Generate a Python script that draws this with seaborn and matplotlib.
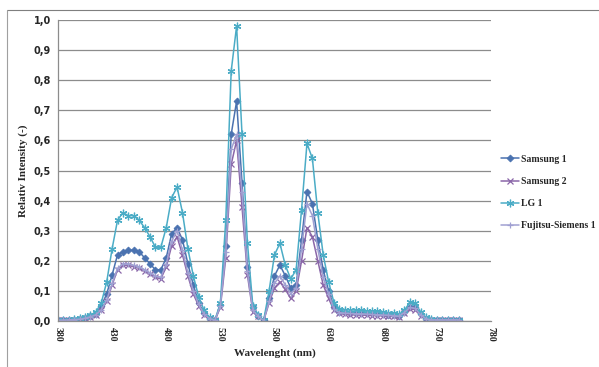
import numpy as np
import pandas as pd
import matplotlib
matplotlib.use("Agg")
import matplotlib.pyplot as plt
import seaborn as sns
from matplotlib.lines import Line2D

# wavelengths (nm), 5 nm steps
wavelength = list(range(380, 755, 5))

samsung1 = [0.003, 0.003, 0.004, 0.005, 0.007, 0.010, 0.015, 0.022, 0.050, 0.090,
            0.153, 0.220, 0.230, 0.235, 0.235, 0.230, 0.210, 0.190, 0.170, 0.170,
            0.210, 0.290, 0.310, 0.270, 0.190, 0.120, 0.060, 0.025, 0.008, 0.002,
            0.053, 0.250, 0.620, 0.730, 0.460, 0.180, 0.047, 0.018, 0.002, 0.075,
            0.150, 0.186, 0.150, 0.110, 0.120, 0.270, 0.430, 0.390, 0.270, 0.170,
            0.100, 0.045, 0.030, 0.029, 0.028, 0.027, 0.027, 0.026, 0.025, 0.024,
            0.023, 0.021, 0.019, 0.017, 0.030, 0.048, 0.045, 0.022, 0.008, 0.005,
            0.004, 0.004, 0.004, 0.004, 0.004]

samsung2 = [0.003, 0.003, 0.003, 0.004, 0.006, 0.009, 0.013, 0.020, 0.035, 0.065,
            0.120, 0.170, 0.185, 0.185, 0.180, 0.175, 0.165, 0.155, 0.145, 0.140,
            0.180, 0.250, 0.280, 0.220, 0.150, 0.090, 0.050, 0.020, 0.008, 0.003,
            0.045, 0.210, 0.520, 0.600, 0.380, 0.153, 0.030, 0.015, 0.001, 0.060,
            0.110, 0.130, 0.105, 0.075, 0.100, 0.200, 0.310, 0.280, 0.200, 0.120,
            0.075, 0.035, 0.025, 0.022, 0.021, 0.020, 0.020, 0.019, 0.018, 0.018,
            0.017, 0.016, 0.015, 0.014, 0.025, 0.040, 0.038, 0.018, 0.006, 0.004,
            0.003, 0.003, 0.003, 0.003, 0.003]

lg1 = [0.004, 0.004, 0.005, 0.006, 0.009, 0.013, 0.020, 0.030, 0.060, 0.130,
       0.240, 0.335, 0.360, 0.350, 0.350, 0.335, 0.310, 0.280, 0.245, 0.245,
       0.310, 0.410, 0.445, 0.360, 0.240, 0.150, 0.080, 0.035, 0.012, 0.003,
       0.060, 0.335, 0.830, 0.980, 0.620, 0.260, 0.050, 0.020, 0.003, 0.100,
       0.220, 0.258, 0.185, 0.140, 0.170, 0.370, 0.590, 0.540, 0.360, 0.220,
       0.130, 0.060, 0.040, 0.038, 0.037, 0.036, 0.035, 0.034, 0.033, 0.032,
       0.030, 0.028, 0.025, 0.022, 0.035, 0.062, 0.060, 0.030, 0.012, 0.006,
       0.005, 0.005, 0.005, 0.005, 0.005]

fujitsu1 = [0.003, 0.003, 0.004, 0.005, 0.006, 0.009, 0.014, 0.021, 0.037, 0.070,
            0.125, 0.175, 0.190, 0.190, 0.185, 0.180, 0.170, 0.160, 0.150, 0.145,
            0.190, 0.265, 0.300, 0.235, 0.160, 0.100, 0.055, 0.022, 0.008, 0.003,
            0.050, 0.230, 0.570, 0.620, 0.430, 0.165, 0.035, 0.016, 0.001, 0.065,
            0.125, 0.150, 0.120, 0.090, 0.110, 0.240, 0.390, 0.350, 0.240, 0.145,
            0.090, 0.040, 0.028, 0.026, 0.025, 0.024, 0.024, 0.023, 0.022, 0.021,
            0.020, 0.019, 0.018, 0.016, 0.028, 0.045, 0.042, 0.020, 0.007, 0.004,
            0.004, 0.004, 0.004, 0.004, 0.004]

series_names = ["Samsung 1", "Samsung 2", "LG 1", "Fujitsu-Siemens 1"]
xticks = [380, 430, 480, 530, 580, 630, 680, 730, 780]
yticks = [0.0, 0.1, 0.2, 0.3, 0.4, 0.5, 0.6, 0.7, 0.8, 0.9, 1.0]

sns.set_style("white")
plt.rcParams["font.family"] = ["Liberation Serif", "DejaVu Serif"]

df = pd.DataFrame({
    "wl": wavelength * 4,
    "val": samsung1 + samsung2 + lg1 + fujitsu1,
    "name": sum([[n] * len(wavelength) for n in series_names], []),
})

styles = {
    "Samsung 1": dict(color="#4a72b0", marker="D", ms=3.5, mew=0.6),
    "Samsung 2": dict(color="#8a66a8", marker="x", ms=4.5, mew=0.9),
    "LG 1": dict(color="#4bacc6", marker=(6, 2, 0), ms=5.5, mew=0.9),
    "Fujitsu-Siemens 1": dict(color="#a0a0d2", marker="+", ms=5, mew=0.9),
}

fig = plt.figure(figsize=(5.99, 3.67), dpi=100)
ax = fig.add_axes([0.0968, 0.1253, 0.7229, 0.8202])

for n in series_names:
    st = styles[n]
    sub = df[df["name"] == n]
    sns.lineplot(data=sub, x="wl", y="val", ax=ax, color=st["color"], lw=1.1,
                 marker=st["marker"], markersize=st["ms"], markeredgewidth=st["mew"],
                 markeredgecolor=st["color"], label=n)

ax.set_xlim(380, 780)
ax.set_ylim(0, 1.0)
ax.set_xticks(xticks)
ax.set_xticklabels([str(t) for t in xticks], rotation=-90, fontsize=7, fontweight="bold")
ax.set_yticks(yticks)
ax.set_yticklabels([f"{t:.1f}".replace(".", ",") for t in yticks], fontsize=7,
                   fontweight="bold", family="DejaVu Sans")
ax.yaxis.grid(True, color="#8c8c8c", lw=0.9)
ax.xaxis.grid(False)
for s in ["top", "right"]:
    ax.spines[s].set_visible(False)
for s in ["left", "bottom"]:
    ax.spines[s].set_color("#8c8c8c")
    ax.spines[s].set_linewidth(0.9)
ax.tick_params(axis="both", length=0, pad=4)
ax.tick_params(axis="y", pad=5)

ax.set_xlabel("Wavelenght (nm)", fontsize=8, fontweight="bold", labelpad=5)
ax.set_ylabel("Relativ Intensity (-)", fontsize=8, fontweight="bold", labelpad=4)

ax.legend(loc="center left", bbox_to_anchor=(1.012, 0.427), frameon=False,
          borderpad=0.2, borderaxespad=0.3,
          prop=dict(size=7, weight="bold"), labelspacing=1.35, handlelength=1.8,
          handletextpad=0.2)

# outer chart frame (top and left edges)
fig.add_artist(Line2D([0.012, 1.0], [0.973, 0.973], color="#7f7f7f", lw=0.8))
fig.add_artist(Line2D([0.012, 0.012], [0.0, 0.973], color="#a0a0a0", lw=0.8))

fig.savefig("out.png", dpi=100)
